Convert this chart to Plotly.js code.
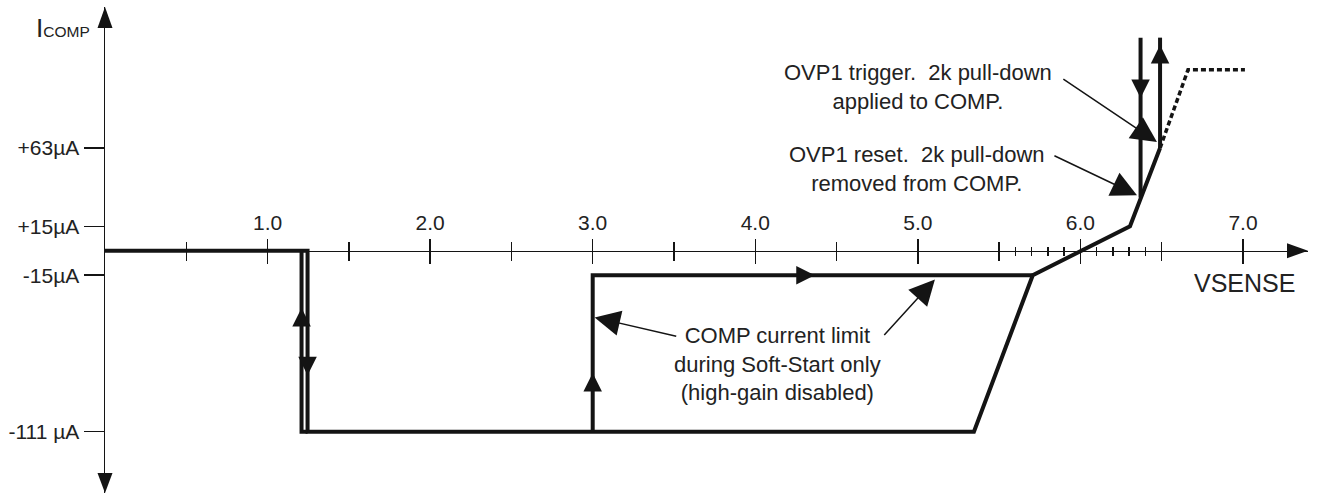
<!DOCTYPE html>
<html>
<head>
<meta charset="utf-8">
<script src="https://cdn.plot.ly/plotly-3.0.1.min.js"></script>
<style>
  html, body { margin: 0; padding: 0; background: #fff; }
  #chart { width: 1317px; height: 496px; }
</style>
</head>
<body>
<div id="chart"></div>
<script>
// ---------- data ----------
const xTickVals = [1, 2, 3, 4, 5, 6, 7];
const xTickText = ['1.0', '2.0', '3.0', '4.0', '5.0', '6.0', '7.0'];
const xMidTicks = [0.5, 1.5, 2.5, 3.5, 4.5, 5.5, 6.5];
const xFineTicks = [5.6, 5.7, 5.8, 5.9, 6.1, 6.2, 6.3, 6.4];
const yTickVals = [63, 15, -15, -111];
const yTickText = ['+63\u00B5A', '+15\u00B5A', '-15\u00B5A', '-111 \u00B5A'];

// main path: 0 µA, drop to -111 µA, ramp up through the high-gain region
const mainX = [0, 1.246, 1.246, 5.345, 5.707, 6.305, 6.49];
const mainY = [0, 0, -111, -111, -15, 15, 63];
// return edge of the low threshold
const returnX = [1.209, 1.209, 1.246];
const returnY = [0, -111, -111];
// soft-start current limit path
const softX = [3.0, 3.0, 5.707];
const softY = [-111, -15, -15];
// OVP1 pull-down verticals
const ovpX = [6.37, 6.37, null, 6.49, 6.49];
const ovpY = [32.7, 130.7, null, 63, 130.7];
// dotted continuation
const dotX = [6.49, 6.662, 7.012];
const dotY = [63, 111, 111];

// flow arrows on the curve: [x, y, ax(px), ay(px)]
const flowArrows = [
  [1.209, -35.2, 0, 30],
  [1.246, -76.3, 0, -30],
  [3.0, -75, 0, 30],
  [4.366, -15, -30, 0],
  [6.37, 93.7, 0, -30],
  [6.49, 126.2, 0, 30]
];
// callout arrows: [tipX, tipY, tailX, tailY]
const calloutArrows = [
  [6.471, 66.7, 5.886, 105.9],
  [6.348, 34.1, 5.831, 58.7],
  [3.012, -40.9, 3.523, -52.6],
  [5.105, -17.6, 4.785, -52.6]
];
const calloutTexts = [
  ['OVP1 trigger.  2k pull-down<br>applied to COMP.', 4.999, 100.4],
  ['OVP1 reset.  2k pull-down<br>removed from COMP.', 4.993, 50.4],
  ['COMP current limit<br>during Soft-Start only<br>(high-gain disabled)', 4.138, -69.7]
];

// ---------- layout ----------
const XMAX = 7.40, YMAX = 149.5, YMIN = -148.6;
const INK = '#141414';
const FONT = 'Liberation Sans, Arial, sans-serif';
const axPos = -YMIN / (YMAX - YMIN);

const lineStyle = {color: INK, width: 4};
const traces = [
  {x: mainX, y: mainY, mode: 'lines', line: lineStyle},
  {x: returnX, y: returnY, mode: 'lines', line: lineStyle},
  {x: softX, y: softY, mode: 'lines', line: lineStyle},
  {x: ovpX, y: ovpY, mode: 'lines', line: lineStyle, connectgaps: false},
  {x: dotX, y: dotY, mode: 'lines', line: {color: INK, width: 3.5, dash: '5px,3px'}},
  {x: [], y: [], xaxis: 'x2', mode: 'lines'},
  {x: [], y: [], xaxis: 'x3', mode: 'lines'},
  {x: [], y: [], xaxis: 'x4', mode: 'lines'}
].map(t => Object.assign({hoverinfo: 'skip', showlegend: false, cliponaxis: false}, t));

function tickAxis(extra) {
  return Object.assign({
    range: [0, XMAX], anchor: 'free', position: axPos,
    showgrid: false, zeroline: false, showline: false,
    ticks: 'outside', tickwidth: 1.5, tickcolor: INK,
    showticklabels: false, fixedrange: true
  }, extra);
}

const annotations = [];
flowArrows.forEach(a => annotations.push({
  x: a[0], y: a[1], xref: 'x', yref: 'y', ax: a[2], ay: a[3],
  text: '', showarrow: true, arrowhead: 2, arrowsize: 1.85, arrowwidth: 2,
  arrowcolor: INK, standoff: 0
}));
calloutArrows.forEach(a => annotations.push({
  x: a[0], y: a[1], xref: 'x', yref: 'y', ax: a[2], ay: a[3], axref: 'x', ayref: 'y',
  text: '', showarrow: true, arrowhead: 2, arrowsize: 3.4, arrowwidth: 1.5,
  arrowcolor: INK, standoff: 0
}));
calloutTexts.forEach(t => annotations.push({
  x: t[1], y: t[2], xref: 'x', yref: 'y', text: t[0], showarrow: false,
  align: 'center', xanchor: 'center', yanchor: 'middle',
  font: {family: FONT, size: 22, color: '#222'}
}));
annotations.push({
  x: -0.059, y: 136.6, xref: 'paper', yref: 'y', xanchor: 'left', yanchor: 'middle',
  text: "I<span style='font-size:15.5px'>COMP</span>", showarrow: false,
  font: {family: FONT, size: 26, color: '#222'}
});
annotations.push({
  x: 7.009, y: -19.8, xref: 'x', yref: 'y', xanchor: 'center', yanchor: 'middle',
  text: 'VSENSE', showarrow: false,
  font: {family: FONT, size: 25, color: '#222'}
});

const shapes = [
  // y-axis arrowheads
  {type: 'path', xref: 'paper', yref: 'y', xsizemode: 'pixel', ysizemode: 'pixel',
   xanchor: 0, yanchor: YMAX, path: 'M0,0 L-7.5,-21 L7.5,-21 Z',
   fillcolor: INK, line: {width: 0}},
  {type: 'path', xref: 'paper', yref: 'y', xsizemode: 'pixel', ysizemode: 'pixel',
   xanchor: 0, yanchor: YMIN, path: 'M0,0 L-7.5,20 L7.5,20 Z',
   fillcolor: INK, line: {width: 0}},
  // x-axis arrowhead
  {type: 'path', xref: 'x', yref: 'y', xsizemode: 'pixel', ysizemode: 'pixel',
   xanchor: XMAX, yanchor: 0, path: 'M0,0 L-21,7.5 L-21,-7.5 Z',
   fillcolor: INK, line: {width: 0}}
];

const layout = {
  width: 1317, height: 496,
  margin: {l: 105, r: 9, t: 7, b: 3, pad: 0},
  paper_bgcolor: '#fff', plot_bgcolor: '#fff',
  showlegend: false,
  font: {family: FONT, color: '#222'},
  xaxis: {
    range: [0, XMAX], anchor: 'free', position: axPos, side: 'top',
    showgrid: false, zeroline: false,
    showline: true, linewidth: 1.5, linecolor: INK,
    ticks: 'outside', ticklen: 12, tickwidth: 1.5, tickcolor: INK,
    tickmode: 'array', tickvals: xTickVals, ticktext: xTickText,
    tickfont: {family: FONT, size: 21, color: '#222'},
    minor: {tickmode: 'array', tickvals: xMidTicks, ticks: 'outside', ticklen: 9, tickwidth: 1.5, tickcolor: INK, showgrid: false},
    fixedrange: true
  },
  xaxis2: tickAxis({overlaying: 'x', side: 'bottom', ticklen: 12, tickmode: 'array', tickvals: xTickVals,
    minor: {tickmode: 'array', tickvals: xMidTicks, ticks: 'outside', ticklen: 9, tickwidth: 1.5, tickcolor: INK, showgrid: false}}),
  xaxis3: tickAxis({overlaying: 'x', side: 'top', ticklen: 4, tickmode: 'array', tickvals: xFineTicks}),
  xaxis4: tickAxis({overlaying: 'x', side: 'bottom', ticklen: 4, tickmode: 'array', tickvals: xFineTicks}),
  yaxis: {
    range: [YMIN, YMAX], showgrid: false, zeroline: false,
    showline: true, linewidth: 1.5, linecolor: INK,
    ticks: 'outside', ticklen: 20, tickwidth: 1.5, tickcolor: INK,
    tickmode: 'array', tickvals: yTickVals, ticktext: yTickText,
    tickfont: {family: FONT, size: 21, color: '#222'},
    fixedrange: true
  },
  annotations: annotations,
  shapes: shapes
};

Plotly.newPlot('chart', traces, layout, {staticPlot: true, displayModeBar: false});
</script>
</body>
</html>
